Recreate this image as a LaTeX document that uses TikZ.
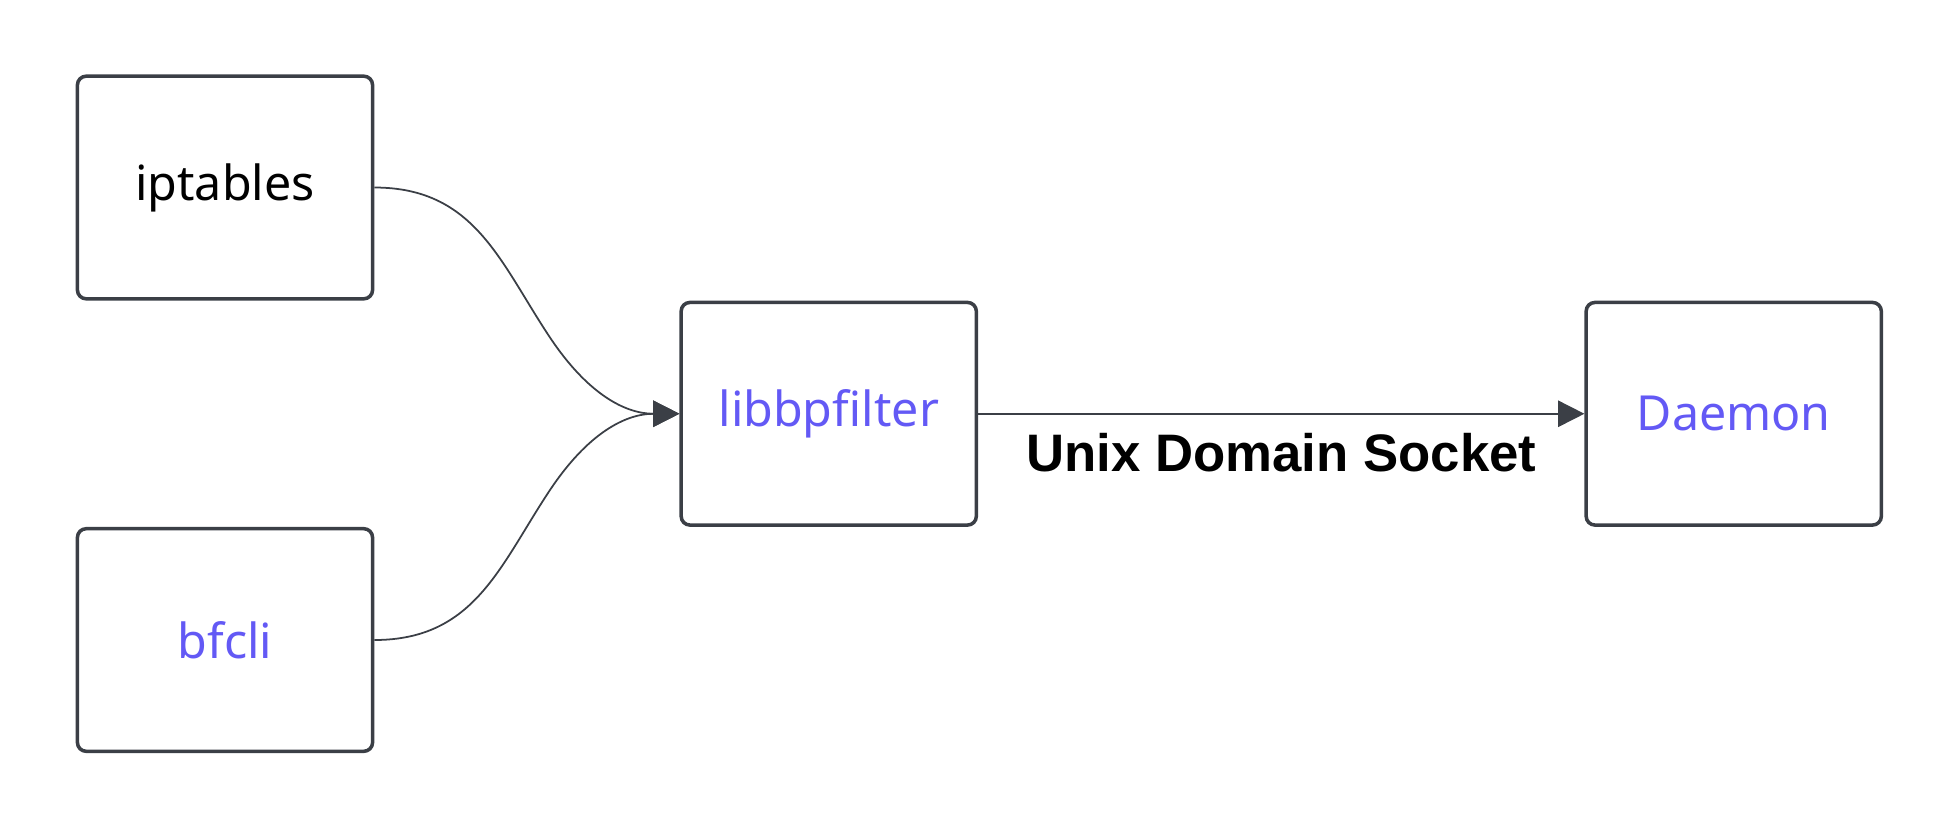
\documentclass[tikz,border=0pt]{standalone}
\usepackage{fontspec}
\setmainfont{Noto Sans}
\newfontfamily\sockfont{Liberation Sans}
\usetikzlibrary{arrows.meta}
\definecolor{edge}{HTML}{3B3F46}
\definecolor{purp}{HTML}{6359F5}
\tikzset{
  box/.style={draw=edge, line width=0.8pt, rounded corners=2pt, minimum width=2.36cm, minimum height=1.78cm, font=\fontsize{11}{14}\selectfont},
  link/.style={draw=edge, line width=0.4pt, -{Triangle[length=6pt,width=6pt]}}
}
\begin{document}
\begin{tikzpicture}[x=0.01cm, y=-0.01cm]
    \useasboundingbox (0,0) rectangle (1560,660);

    \node[box] (iptables) at (180,150) {iptables};
    \node[box, text=purp] (bfcli) at (180,512) {bfcli};
    \node[box, text=purp] (lib) at (663,331) {libbpfilter};
    \node[box, text=purp] (daemon) at (1387,331) {Daemon};

\draw[link] (iptables.east) .. controls (380,150) and (400,210) .. (440,270) .. controls (470,315) and (500,331) .. (lib.west);
\draw[link] (bfcli.east) .. controls (380,512) and (400,452) .. (440,392) .. controls (470,347) and (500,331) .. (lib.west);

\draw[link] (lib.east) -- node[below=1pt, text=black, font=\sockfont\bfseries\fontsize{12}{14}\selectfont] {Unix Domain Socket} (daemon.west);

\end{tikzpicture}
\end{document}
